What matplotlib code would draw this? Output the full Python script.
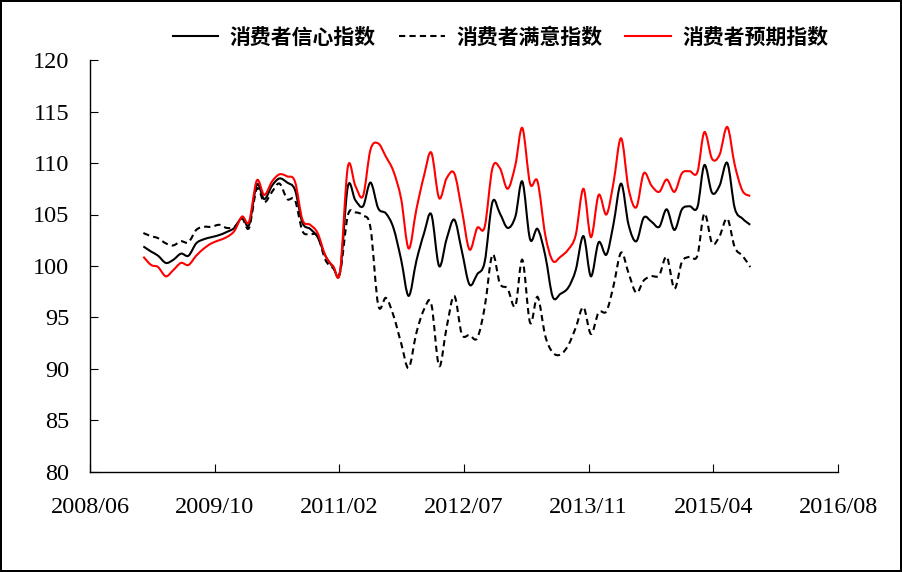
# 消费者信心指数 / 满意指数 / 预期指数 折线图 (Excel 平滑线风格)

import matplotlib
matplotlib.use('Agg')
import matplotlib.pyplot as plt
import matplotlib.dates as mdates
from matplotlib.path import Path
from matplotlib.patches import PathPatch
from matplotlib.lines import Line2D
import numpy as np
import pandas as pd

# 数据: 2009/01 - 2015/09 月度
meses = pd.date_range('2009-01-01', '2015-09-01', freq='MS')

confianca = [101.9, 101.4, 101.0, 100.3, 100.6, 101.2, 101.0, 102.2, 102.6, 102.8, 103.0, 103.3,
             103.7, 104.7, 104.0, 107.9, 106.5, 107.8, 108.5, 108.1, 107.4, 104.2, 103.6, 102.8,
             101.0, 99.9, 99.4, 107.7, 106.4, 105.8, 108.1, 105.6, 105.1, 103.7, 100.6, 97.1,
             100.5, 103.2, 105.0, 100.0, 102.6, 104.5, 101.5, 98.2, 99.2, 100.4, 106.2, 105.1,
             103.7, 104.8, 108.2, 102.6, 103.6, 101.0, 97.0, 97.3, 97.9, 99.6, 102.9, 99.0,
             102.3, 101.1, 104.0, 108.0, 104.0, 102.4, 104.7, 104.3, 103.8, 105.5, 103.5, 105.5,
             105.8, 105.7, 109.8, 107.1, 107.8, 110.0, 105.6, 104.6, 104.0]

satisfacao = [103.2, 102.9, 102.7, 102.2, 102.0, 102.4, 102.3, 103.5, 103.8, 103.8, 104.0, 103.7,
              103.8, 104.6, 103.7, 107.5, 106.2, 107.2, 108.0, 106.5, 106.4, 103.4, 103.1, 102.9,
              100.6, 99.8, 99.4, 104.9, 105.2, 104.9, 103.7, 96.2, 96.9, 95.2, 92.5, 90.1,
              93.5, 95.8, 96.3, 90.3, 94.0, 97.1, 93.4, 93.3, 93.0, 96.0, 101.1, 98.3,
              97.8, 96.1, 100.6, 94.5, 97.0, 93.2, 91.6, 91.4, 92.3, 94.0, 96.0, 93.4,
              95.5, 95.6, 98.0, 101.3, 99.3, 97.4, 98.6, 99.0, 99.1, 100.9, 97.8, 100.4,
              100.9, 101.0, 105.1, 102.2, 102.9, 104.6, 101.8, 101.0, 99.9]

expectativa = [100.9, 100.1, 99.9, 99.0, 99.6, 100.3, 100.1, 101.0, 101.7, 102.2, 102.5, 102.8,
               103.4, 104.8, 104.3, 108.3, 106.9, 108.2, 108.9, 108.7, 108.2, 104.5, 104.0, 103.2,
               101.0, 100.0, 99.5, 109.6, 107.8, 106.8, 111.3, 111.9, 110.6, 109.2, 106.5, 101.7,
               105.5, 108.8, 111.0, 106.6, 108.5, 109.0, 105.5, 101.6, 103.7, 103.8, 109.5, 109.5,
               107.5, 109.8, 113.4, 108.0, 108.2, 103.0, 100.5, 100.9, 101.6, 103.0, 107.5, 102.8,
               106.9, 105.0, 108.0, 112.4, 107.5, 105.7, 109.0, 107.8, 107.2, 108.4, 107.2, 109.0,
               109.2, 109.1, 113.0, 110.4, 110.8, 113.5, 109.8, 107.3, 106.8]

nomes = ['消费者信心指数', '消费者满意指数', '消费者预期指数']

# eixo x: Excel com unidade de 500 dias
datas_ticks = pd.to_datetime(['2008-06-01', '2009-10-14', '2011-02-26', '2012-07-10',
                              '2013-11-22', '2015-04-06', '2016-08-18'])


def caminho_suave(x, y):
    # curva Bezier igual ao "linha suavizada" do Excel
    x = np.asarray(x, dtype=float)
    y = np.asarray(y, dtype=float)
    n = len(x)
    verts = [(x[0], y[0])]
    codes = [Path.MOVETO]
    for i in range(n - 1):
        a = max(i - 1, 0)
        b = min(i + 2, n - 1)
        c1 = (x[i] + (x[i + 1] - x[a]) / 6, y[i] + (y[i + 1] - y[a]) / 6)
        c2 = (x[i + 1] - (x[b] - x[i]) / 6, y[i + 1] - (y[b] - y[i]) / 6)
        verts += [c1, c2, (x[i + 1], y[i + 1])]
        codes += [Path.CURVE4] * 3
    return Path(verts, codes)


fig = plt.figure(figsize=(9.02, 5.72), dpi=100)
fig.patch.set_edgecolor('black')
fig.patch.set_linewidth(1.5)
ax = fig.add_axes([90 / 902, 100 / 572, 748 / 902, 412 / 572])

xnum = mdates.date2num(meses)
estilos = [
    dict(color='black', ls='-'),
    dict(color='black', ls=(0, (3, 2))),
    dict(color='#FF0000', ls='-'),
]
handles = []
for serie, nome, st in zip([confianca, satisfacao, expectativa], nomes, estilos):
    patch = PathPatch(caminho_suave(xnum, serie), fill=False, edgecolor=st['color'],
                      linestyle=st['ls'], linewidth=1.5, capstyle='butt')
    ax.add_patch(patch)
    handles.append(Line2D([], [], color=st['color'], linestyle=st['ls'], linewidth=1.5, label=nome))

ax.set_xlim(mdates.date2num(datas_ticks[0]), mdates.date2num(datas_ticks[-1]))
ax.set_ylim(80, 120)
ax.set_yticks(np.arange(80, 121, 5))
ax.set_xticks(mdates.date2num(datas_ticks))
ax.xaxis.set_major_formatter(mdates.DateFormatter('%Y/%m'))

for s in ['top', 'right']:
    ax.spines[s].set_visible(False)
for s in ['left', 'bottom']:
    ax.spines[s].set_linewidth(1.0)

ax.tick_params(axis='both', direction='in', length=6, width=0.8)
ax.tick_params(axis='y', pad=15)
ax.tick_params(axis='x', pad=18)
for lab in ax.get_xticklabels() + ax.get_yticklabels():
    lab.set_fontfamily('Liberation Serif')
    lab.set_fontsize(17.5)

fig.legend(handles=handles, loc='center', bbox_to_anchor=(0.555, 0.935), ncol=3,
           frameon=False, handlelength=2.2, handletextpad=0.55, columnspacing=1.1,
           prop={'family': ['Noto Sans CJK SC', 'DejaVu Sans'], 'size': 15, 'weight': 'bold'})

fig.savefig('out.png', dpi=100)
